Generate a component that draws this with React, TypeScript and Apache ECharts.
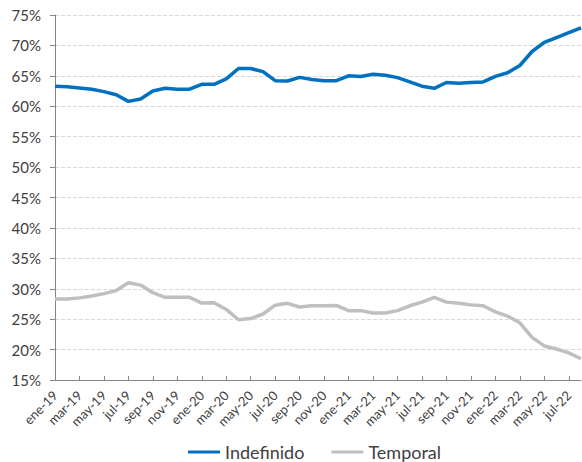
import React, { useEffect, useRef } from "react";
import * as echarts from "echarts";

const months = ["ene", "feb", "mar", "abr", "may", "jun", "jul", "ago", "sep", "oct", "nov", "dic"];
const years = ["19", "20", "21", "22"];
const categories: string[] = [];
for (const y of years) for (const m of months) categories.push(`${m}-${y}`);
const cats = categories.slice(0, 44);

const indefinido = [
  63.3, 63.2, 63.0, 62.8, 62.4, 61.9, 60.8, 61.2, 62.5, 62.95, 62.8, 62.8,
  63.6, 63.6, 64.5, 66.2, 66.2, 65.7, 64.2, 64.15, 64.75, 64.4, 64.2, 64.2,
  65.0, 64.9, 65.25, 65.1, 64.7, 64.0, 63.3, 62.95, 63.9, 63.8, 63.9, 64.0,
  64.9, 65.5, 66.7, 69.0, 70.5, 71.3, 72.1, 72.9,
];
const temporal = [
  28.3, 28.3, 28.5, 28.8, 29.2, 29.7, 31.0, 30.6, 29.35, 28.6, 28.6, 28.6,
  27.65, 27.7, 26.6, 24.9, 25.1, 25.85, 27.3, 27.6, 27.0, 27.2, 27.2, 27.25,
  26.4, 26.4, 26.0, 26.0, 26.4, 27.2, 27.8, 28.6, 27.8, 27.6, 27.35, 27.2,
  26.2, 25.5, 24.4, 22.0, 20.6, 20.1, 19.45, 18.5,
];

const FONT = "Lato";
const TEXT = "#404040";

export default function App() {
  const ref = useRef<HTMLDivElement>(null);
  useEffect(() => {
    if (!ref.current) return;
    const chart = echarts.init(ref.current, null, { renderer: "svg" });
    chart.setOption({
      animation: false,
      backgroundColor: "#ffffff",
      textStyle: { fontFamily: FONT },
      grid: { left: 55, right: 1, top: 15, bottom: 82, containLabel: false },
      legend: {
        left: 188,
        top: 443,
        padding: 0,
        itemWidth: 32,
        itemHeight: 3,
        itemGap: 27,
        itemTextGap: 1,
        icon: "rect",
        textStyle: { fontFamily: FONT, fontSize: 18, lineHeight: 18, color: TEXT },
        data: [
          { name: "Indefinido", itemStyle: { color: "#0070C0" } },
          { name: "Temporal", itemStyle: { color: "#BFBFBF" } },
        ],
      },
      xAxis: {
        type: "category",
        data: cats,
        boundaryGap: false,
        axisLine: { lineStyle: { color: "#868686", width: 1 } },
        axisTick: { inside: true, length: 4, interval: 1, lineStyle: { color: "#868686" } },
        axisLabel: {
          interval: 1,
          rotate: 45,
          fontFamily: FONT,
          fontSize: 13,
          color: TEXT,
          margin: 13,
        },
        splitLine: { show: false },
      },
      yAxis: {
        type: "value",
        min: 15,
        max: 75,
        interval: 5,
        axisLine: { show: true, lineStyle: { color: "#868686", width: 1 } },
        axisTick: { show: true, length: 5, lineStyle: { color: "#868686" } },
        axisLabel: {
          formatter: (v: number) => `${v}%`,
          fontFamily: FONT,
          fontSize: 15,
          color: TEXT,
          margin: 14,
        },
        splitLine: { show: true, lineStyle: { color: "#d9d9d9", type: "dashed", width: 1 } },
      },
      series: [
        {
          name: "Indefinido",
          type: "line",
          data: indefinido,
          symbol: "none",
          lineStyle: { color: "#0070C0", width: 3.5 },
          itemStyle: { color: "#0070C0" },
        },
        {
          name: "Temporal",
          type: "line",
          data: temporal,
          symbol: "none",
          lineStyle: { color: "#BFBFBF", width: 3.5 },
          itemStyle: { color: "#BFBFBF" },
        },
      ],
    });
    return () => chart.dispose();
  }, []);
  return (
    <div
      ref={ref}
      style={{ position: "fixed", left: 0, top: 0, width: 582, height: 462 }}
    />
  );
}
